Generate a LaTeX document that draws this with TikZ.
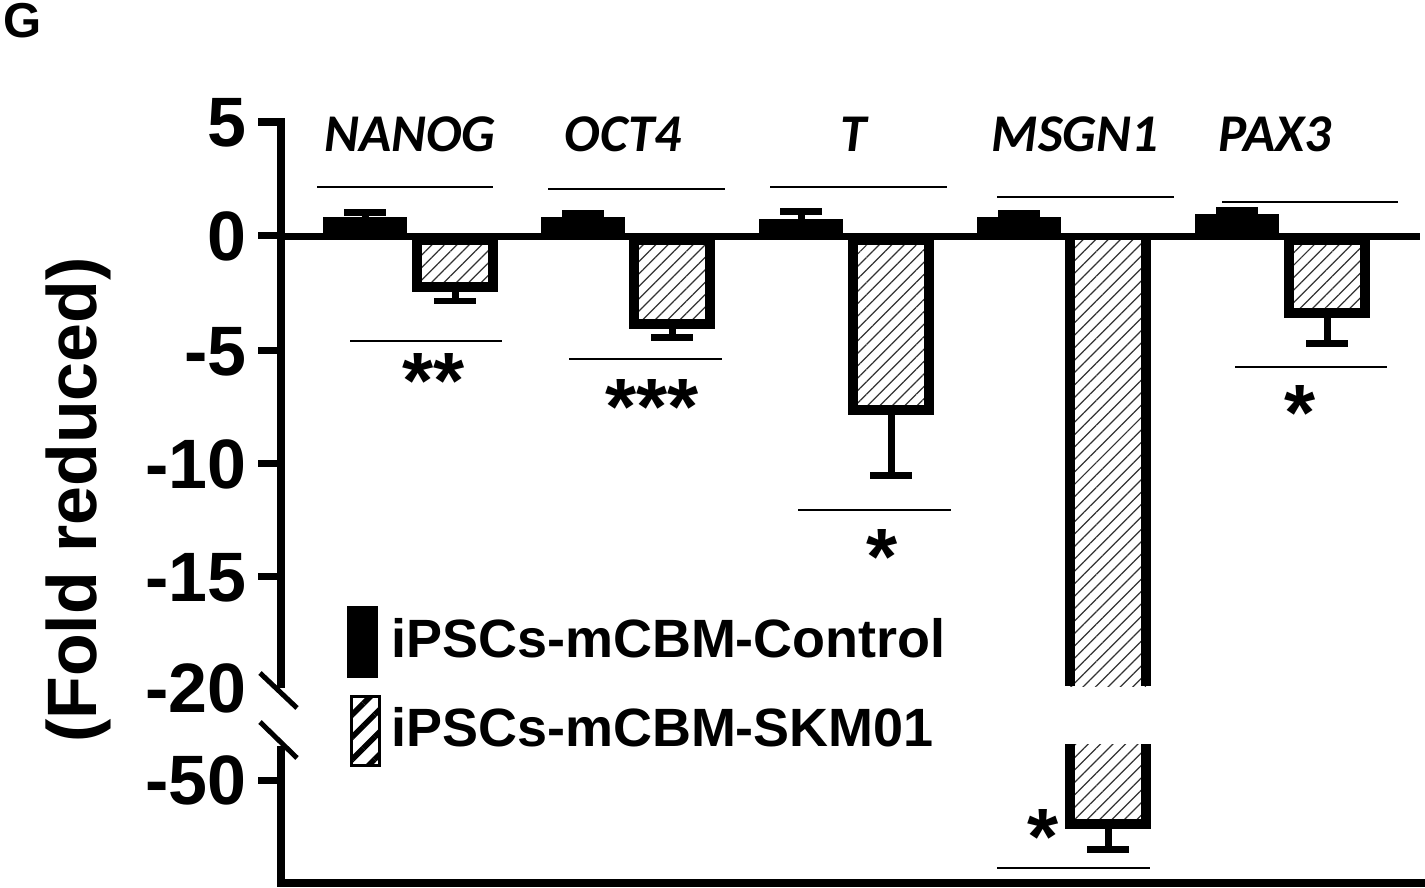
\documentclass[tikz,border=0pt]{standalone}
\usepackage{fontspec}
\setmainfont{Liberation Sans}
\newfontfamily\genefont{Carlito}
\usetikzlibrary{patterns.meta}

\tikzset{
  skm/.style={line width=0.2cm, pattern={Lines[angle=45,distance=5pt,line width=0.7pt]}, pattern color=black!80},
  errbar/.style={line width=0.14cm},
  sigline/.style={line width=0.05cm},
  ticklbl/.style={font=\bfseries\fontsize{39.8}{40}\selectfont, anchor=base east, inner sep=0pt},
  starlbl/.style={font=\bfseries\fontsize{45.5}{46}\selectfont, anchor=base, inner sep=0pt},
  genelbl/.style={font=\genefont\bfseries\itshape\fontsize{30.2}{31}\selectfont, anchor=base, inner sep=0pt},
  leglbl/.style={font=\bfseries\fontsize{30.7}{31}\selectfont, anchor=base west, inner sep=0pt}
}

\begin{document}
\begin{tikzpicture}[x=0.02cm, y=-0.02cm]
  \path[use as bounding box] (0,0) rectangle (1425,888);

  % panel letter
  \node[anchor=base west, inner sep=0pt, font=\bfseries\fontsize{27.9}{28}\selectfont] (panel) at (3,38) {G};

  % control bars, labels, significance lines
  \foreach \i/\gene/\gx/\ctop/\ccap/\lx/\ta/\tb/\ty/\ba/\bb/\by/\stars/\sx/\sy in {
      0/NANOG/323/217/213/410/317/493/187/350/502/341/{**}/434/372,
      1/OCT4/541/217/214/623/548/725/189/569/722/359/{***}/652/398,
      2/T/759/219/212/854/770/947/187/798/951/510/{*}/882/548,
      3/MSGN1/977/217/214/1075/997/1174/197/997/1150/868/{*}/1043/828,
      4/PAX3/1195/214/211/1275/1222/1398/202/1235/1387/367/{*}/1300/404} {
    \fill ({\gx},236) rectangle ({\gx+84},{\ctop});
    \draw[errbar] ({\gx+42},{\ctop}) -- ({\gx+42},{\ccap});
    \draw[errbar] ({\gx+21},{\ccap}) -- ({\gx+63},{\ccap});
    \node[genelbl] (gene\i) at ({\lx},152) {\gene};
    \draw[sigline] ({\ta},{\ty}) -- ({\tb},{\ty});
    \draw[sigline] ({\ba},{\by}) -- ({\bb},{\by});
    \node[starlbl] (star\i) at ({\sx},{\sy+36}) {\stars};
  }

  % SKM01 bars
  \foreach \hx/\hbot/\hcap in {412/292/301, 629/329/337, 848/415/475, 1284/318/343} {
    \draw[skm] ({\hx+5},240) rectangle ({\hx+81},{\hbot-5});
    \draw[errbar] ({\hx+43},{\hbot}) -- ({\hx+43},{\hcap});
    \draw[errbar] ({\hx+22},{\hcap}) -- ({\hx+64},{\hcap});
  }

  % broken MSGN1 bar
  \fill[pattern={Lines[angle=45,distance=5pt,line width=0.7pt]}, pattern color=black!80] (1070,236) rectangle (1146,686);
  \draw[line width=0.2cm] (1070,236) -- (1070,686) (1146,236) -- (1146,686);
  \draw[skm] (1070,744) -- (1070,824) -- (1146,824) -- (1146,744);
  \draw[errbar] (1108,829) -- (1108,849);
  \draw[errbar] (1087,849) -- (1129,849);

  % axes
  \draw[line width=0.16cm] (258,122) -- (281,122) -- (281,688);
  \draw[line width=0.16cm] (281,746) -- (281,883) -- (1425,883);
  \foreach \y in {236, 350, 463, 576, 780}
    \draw[line width=0.14cm] (258,\y) -- (281,\y);
  \draw[line width=0.14cm] (281,236.5) -- (1420,236.5);
  \draw[line width=0.1cm] (260,673) -- (297,708);
  \draw[line width=0.1cm] (260,722) -- (297,758);

  \foreach \v/\y [count=\k] in {5/122, 0/236, -5/350, -10/463, -15/576, -20/687, -50/779}
    \node[ticklbl] (ytick\k) at (247,{\y+25}) {\v};
  \node[rotate=90, anchor=base, inner sep=0pt, font=\bfseries\fontsize{39.8}{40}\selectfont] (ytitle) at (96,500) {(Fold reduced)};

  % legend
  \fill (347,606) rectangle (378,678);
  \draw[line width=0.06cm, pattern={Lines[angle=45,distance=9pt,line width=3.2pt]}] (351.5,696.5) rectangle (379.5,765.5);
  \node[leglbl] (legctrl) at (391,657) {iPSCs-mCBM-Control};
  \node[leglbl] (legskm) at (391,746) {iPSCs-mCBM-SKM01};
\end{tikzpicture}
\end{document}
